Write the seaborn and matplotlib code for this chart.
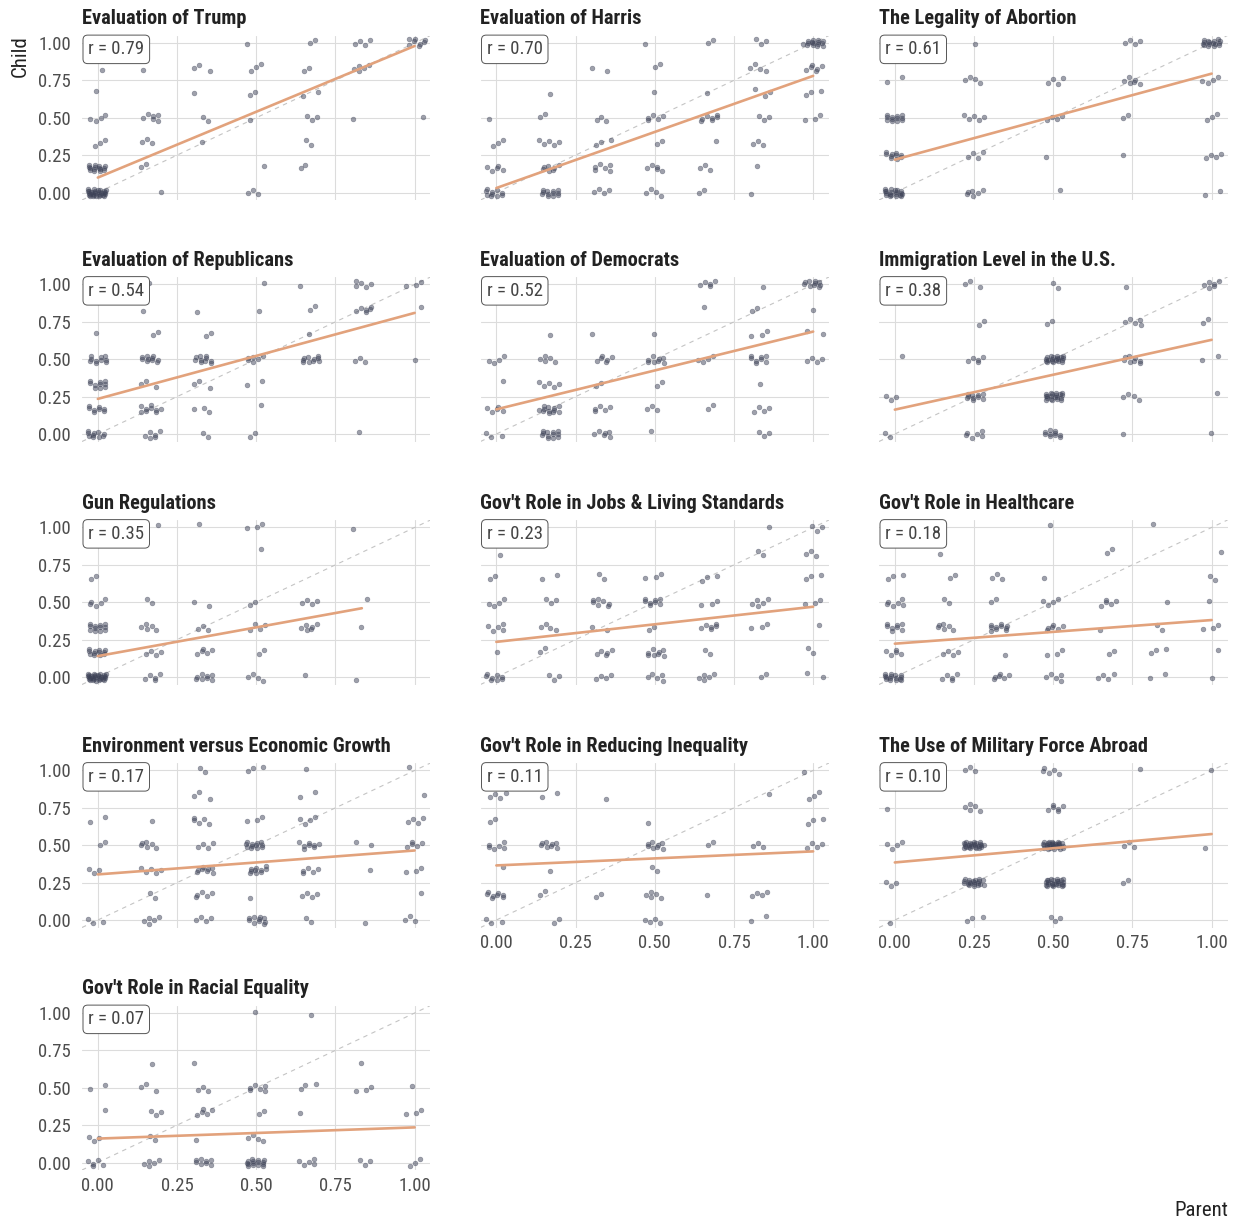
import numpy as np
import pandas as pd
import matplotlib
matplotlib.use("Agg")
import matplotlib.pyplot as plt
import seaborn as sns

# Response cells per issue: (parent level index, child level index, number of pairs)
TRUMP = [(0,0,30),(0,1,15),(0,2,3),(0,3,4),(0,4,1),(0,5,1),
         (1,0,1),(1,1,2),(1,2,3),(1,3,6),(1,5,1),
         (2,2,1),(2,3,2),(2,4,1),(2,5,3),
         (3,0,3),(3,1,1),(3,3,1),(3,4,2),(3,5,3),(3,6,1),
         (4,1,2),(4,2,2),(4,3,3),(4,4,2),(4,5,2),(4,6,2),
         (5,3,1),(5,5,5),(5,6,4),
         (6,3,1),(6,6,8)]
HARRIS = [(0,0,10),(0,1,5),(0,2,3),(0,3,1),
          (1,0,12),(1,1,7),(1,2,5),(1,3,2),(1,4,1),
          (2,0,4),(2,1,6),(2,2,3),(2,3,3),(2,5,2),
          (3,0,4),(3,1,5),(3,2,2),(3,3,5),(3,4,1),(3,5,2),(3,6,1),
          (4,0,2),(4,1,3),(4,2,1),(4,3,7),(4,4,1),(4,6,2),
          (5,0,1),(5,1,1),(5,2,3),(5,3,3),(5,4,3),(5,5,4),(5,6,3),
          (6,3,3),(6,4,3),(6,5,6),(6,6,15)]
ABORTION = [(0,0,20),(0,1,10),(0,2,12),(0,3,2),
            (1,0,6),(1,1,4),(1,2,5),(1,3,4),(1,4,1),
            (2,0,1),(2,1,1),(2,2,4),(2,3,4),
            (3,1,1),(3,2,2),(3,3,6),(3,4,4),
            (4,0,2),(4,1,4),(4,2,3),(4,3,4),(4,4,16)]
REPUBLICANS = [(0,0,10),(0,1,8),(0,2,10),(0,3,10),(0,4,1),
               (1,0,6),(1,1,9),(1,2,3),(1,3,10),(1,4,2),(1,5,1),(1,6,1),
               (2,0,2),(2,1,3),(2,2,3),(2,3,10),(2,4,2),(2,5,1),
               (3,0,2),(3,1,1),(3,2,2),(3,3,6),(3,5,1),(3,6,1),
               (4,3,10),(4,4,1),(4,5,2),(4,6,1),
               (5,0,1),(5,3,3),(5,5,6),(5,6,5),
               (6,3,1),(6,5,1),(6,6,3)]
DEMOCRATS = [(0,0,3),(0,1,5),(0,2,1),(0,3,4),
             (1,0,12),(1,1,12),(1,2,5),(1,3,5),(1,4,1),
             (2,0,6),(2,1,5),(2,2,2),(2,3,6),(2,4,1),
             (3,0,1),(3,1,3),(3,2,2),(3,3,8),(3,4,1),
             (4,1,2),(4,3,4),(4,5,1),(4,6,5),
             (5,0,3),(5,1,4),(5,2,1),(5,3,8),(5,4,3),(5,5,2),(5,6,1),
             (6,3,4),(6,4,2),(6,5,1),(6,6,10)]
IMMIGRATION = [(0,0,2),(0,1,3),(0,2,1),
               (1,0,6),(1,1,10),(1,2,5),(1,3,2),(1,4,3),
               (2,0,10),(2,1,20),(2,2,20),(2,3,2),(2,4,2),
               (3,0,1),(3,1,4),(3,2,8),(3,3,5),(3,4,1),
               (4,0,1),(4,1,1),(4,2,2),(4,3,2),(4,4,6)]
GUN = [(0,0,30),(0,1,12),(0,2,12),(0,3,5),(0,4,2),
       (1,0,5),(1,1,4),(1,2,5),(1,3,2),(1,6,1),
       (2,0,8),(2,1,5),(2,2,3),(2,3,2),(2,6,1),
       (3,0,4),(3,1,2),(3,2,4),(3,3,2),(3,5,1),(3,6,3),
       (4,0,1),(4,2,6),(4,3,4),
       (5,0,1),(5,2,1),(5,3,1),(5,6,1)]
JOBS = [(0,0,8),(0,1,1),(0,2,5),(0,3,4),(0,4,2),(0,5,1),
        (1,0,3),(1,1,2),(1,2,4),(1,3,3),(1,4,2),
        (2,0,4),(2,1,5),(2,2,2),(2,3,7),(2,4,2),
        (3,0,5),(3,1,8),(3,2,2),(3,3,8),(3,4,3),
        (4,0,5),(4,1,2),(4,2,6),(4,3,3),(4,4,3),
        (5,0,2),(5,2,3),(5,3,5),(5,5,2),(5,6,1),
        (6,0,2),(6,1,2),(6,2,1),(6,3,3),(6,4,3),(6,5,3),(6,6,3)]
HEALTHCARE = [(0,0,15),(0,1,5),(0,2,8),(0,3,6),(0,4,3),
              (1,0,5),(1,1,4),(1,2,6),(1,3,2),(1,4,2),(1,5,1),
              (2,0,6),(2,1,1),(2,2,10),(2,3,2),(2,4,3),
              (3,0,5),(3,1,3),(3,2,6),(3,3,4),(3,4,1),(3,6,1),
              (4,0,4),(4,1,2),(4,2,1),(4,3,5),(4,5,2),
              (5,0,2),(5,1,3),(5,2,2),(5,3,1),(5,6,1),
              (6,0,1),(6,1,1),(6,2,3),(6,3,1),(6,4,2),(6,5,1)]
ENVIRONMENT = [(0,0,3),(0,2,3),(0,3,2),(0,4,2),
               (1,0,5),(1,1,2),(1,2,5),(1,3,6),(1,4,1),
               (2,0,4),(2,1,5),(2,2,8),(2,3,4),(2,4,5),(2,5,3),(2,6,2),
               (3,0,10),(3,1,1),(3,2,10),(3,3,12),(3,4,3),(3,6,3),
               (4,0,2),(4,1,4),(4,2,5),(4,3,8),(4,4,4),(4,5,2),(4,6,1),
               (5,0,1),(5,2,1),(5,3,2),
               (6,0,3),(6,1,1),(6,2,3),(6,3,5),(6,4,4),(6,5,1),(6,6,1)]
INEQUALITY = [(0,0,3),(0,1,8),(0,2,1),(0,3,6),(0,4,2),(0,5,4),
              (1,0,2),(1,1,2),(1,2,1),(1,3,8),(1,5,2),
              (2,1,2),(2,5,1),
              (3,0,4),(3,1,5),(3,2,2),(3,3,8),(3,4,1),
              (4,1,1),(4,3,2),
              (5,0,2),(5,1,4),(5,3,3),(5,5,1),
              (6,3,4),(6,4,3),(6,5,3),(6,6,1)]
MILITARY = [(0,0,1),(0,1,3),(0,2,4),(0,3,1),
            (1,0,3),(1,1,20),(1,2,25),(1,3,5),(1,4,3),
            (2,0,3),(2,1,25),(2,2,30),(2,3,6),(2,4,5),
            (3,1,2),(3,2,3),(3,4,1),
            (4,2,1),(4,4,1)]
RACIAL = [(0,0,5),(0,1,3),(0,2,1),(0,3,2),
          (1,0,5),(1,1,2),(1,2,3),(1,3,3),(1,4,1),
          (2,0,8),(2,1,1),(2,2,5),(2,3,3),(2,4,1),
          (3,0,15),(3,1,4),(3,2,2),(3,3,6),(3,6,1),
          (4,0,5),(4,2,1),(4,3,3),(4,6,1),
          (5,0,3),(5,3,3),(5,4,1),
          (6,0,3),(6,2,3),(6,3,1)]

TITLES = ["Evaluation of Trump", "Evaluation of Harris", "The Legality of Abortion",
          "Evaluation of Republicans", "Evaluation of Democrats", "Immigration Level in the U.S.",
          "Gun Regulations", "Gov't Role in Jobs & Living Standards", "Gov't Role in Healthcare",
          "Environment versus Economic Growth", "Gov't Role in Reducing Inequality",
          "The Use of Military Force Abroad", "Gov't Role in Racial Equality"]
CELLS = [TRUMP, HARRIS, ABORTION, REPUBLICANS, DEMOCRATS, IMMIGRATION, GUN,
         JOBS, HEALTHCARE, ENVIRONMENT, INEQUALITY, MILITARY, RACIAL]
SCALE_STEPS = [6, 6, 4, 6, 6, 4, 6, 6, 6, 6, 6, 4, 6]
R_VALUES = [0.79, 0.70, 0.61, 0.54, 0.52, 0.38, 0.35, 0.23, 0.18, 0.17, 0.11, 0.10, 0.07]
FIT_INTERCEPT = [0.10, 0.03, 0.22, 0.235, 0.165, 0.163, 0.14, 0.235, 0.223, 0.305, 0.365, 0.385, 0.16]
FIT_SLOPE = [0.88, 0.75, 0.575, 0.575, 0.52, 0.467, 0.384, 0.235, 0.158, 0.16, 0.094, 0.19, 0.075]

POINT_COLOR = "#3e4358"
FIT_COLOR = "#e2a27c"
GRID_COLOR = "#dcdcdc"


def jittered(cells, steps):
    """Spread the pairs in each cell with an even 2-D quasi-jitter (R2 sequence)."""
    a1, a2 = 0.7548776662, 0.5698402910
    xs, ys = [], []
    for c, (i, j, n) in enumerate(cells):
        for k in range(n):
            u = (0.5 + (k + 1) * a1 + c * 0.289) % 1.0
            v = (0.5 + (k + 1) * a2 + c * 0.417) % 1.0
            xs.append(i / steps + (2 * u - 1) * 0.032)
            ys.append(j / steps + (2 * v - 1) * 0.025)
    return pd.DataFrame({"Parent": xs, "Child": ys})


sns.set_theme(style="white")
plt.rcParams["font.family"] = ["Roboto Condensed", "Roboto", "DejaVu Sans"]

W, H = 1239, 1222
fig = plt.figure(figsize=(W / 100, H / 100), dpi=100)
fig.patch.set_facecolor("white")

col_left = [82, 480.5, 879]
row_top = [35.5, 277, 520, 763, 1005.5]
ax_w, ax_h = 348.5, 164.5
ticks = [0, 0.25, 0.5, 0.75, 1.0]
tick_labels = ["0.00", "0.25", "0.50", "0.75", "1.00"]

for idx, title in enumerate(TITLES):
    r, c = divmod(idx, 3)
    ax = fig.add_axes([col_left[c] / W, 1 - (row_top[r] + ax_h) / H, ax_w / W, ax_h / H])
    ax.set_xlim(-0.05, 1.05)
    ax.set_ylim(-0.05, 1.05)
    ax.set_axisbelow(True)
    ax.grid(True, color=GRID_COLOR, lw=0.8)
    for s in ax.spines.values():
        s.set_visible(False)

    ax.plot([-0.05, 1.05], [-0.05, 1.05], ls=(0, (4, 4)), color="#c4c4c4", lw=0.8, zorder=1)

    df = jittered(CELLS[idx], SCALE_STEPS[idx])
    sns.scatterplot(data=df, x="Parent", y="Child", ax=ax, color=POINT_COLOR, alpha=0.5,
                    s=12, edgecolor=POINT_COLOR, linewidth=0.4, zorder=2)

    x_max = max(i for i, _, _ in CELLS[idx]) / SCALE_STEPS[idx]
    fit_x = np.array([0.0, x_max])
    fit_y = FIT_INTERCEPT[idx] + FIT_SLOPE[idx] * fit_x
    sns.lineplot(x=fit_x, y=fit_y, ax=ax, color=FIT_COLOR, lw=1.9, zorder=3)

    ax.set_xticks(ticks)
    ax.set_yticks(ticks)
    ax.set_xticklabels(tick_labels)
    ax.set_yticklabels(tick_labels)
    bottom = (r == 4) or (r == 3 and c > 0)
    ax.tick_params(axis="both", length=0, labelsize=13.5, labelcolor="#4d4d4d",
                   labelbottom=bottom, labelleft=(c == 0))
    ax.tick_params(axis="y", pad=8)
    ax.tick_params(axis="x", pad=5)
    ax.set_xlabel("")
    ax.set_ylabel("")

    ax.set_title(title, loc="left", fontsize=14.7, fontweight="bold", color="#222222", pad=8)

    ax.annotate(f"r = {R_VALUES[idx]:.2f}", xy=(0, 1), xycoords="axes fraction",
                xytext=(4.5, -3.5), textcoords="offset points", ha="left", va="top",
                fontsize=13.5, color="#444444", zorder=5,
                bbox=dict(boxstyle="round,pad=0.28,rounding_size=0.25", fc="white",
                          ec="#555555", lw=0.7))

fig.text(20 / W, 1 - 35.5 / H, "Child", rotation=90, ha="center", va="top",
         fontsize=15, color="#222222")
fig.text(1228 / W, 1 - 1210 / H, "Parent", ha="right", va="center",
         fontsize=15, color="#222222")

fig.savefig("out.png", dpi=100, facecolor="white")
